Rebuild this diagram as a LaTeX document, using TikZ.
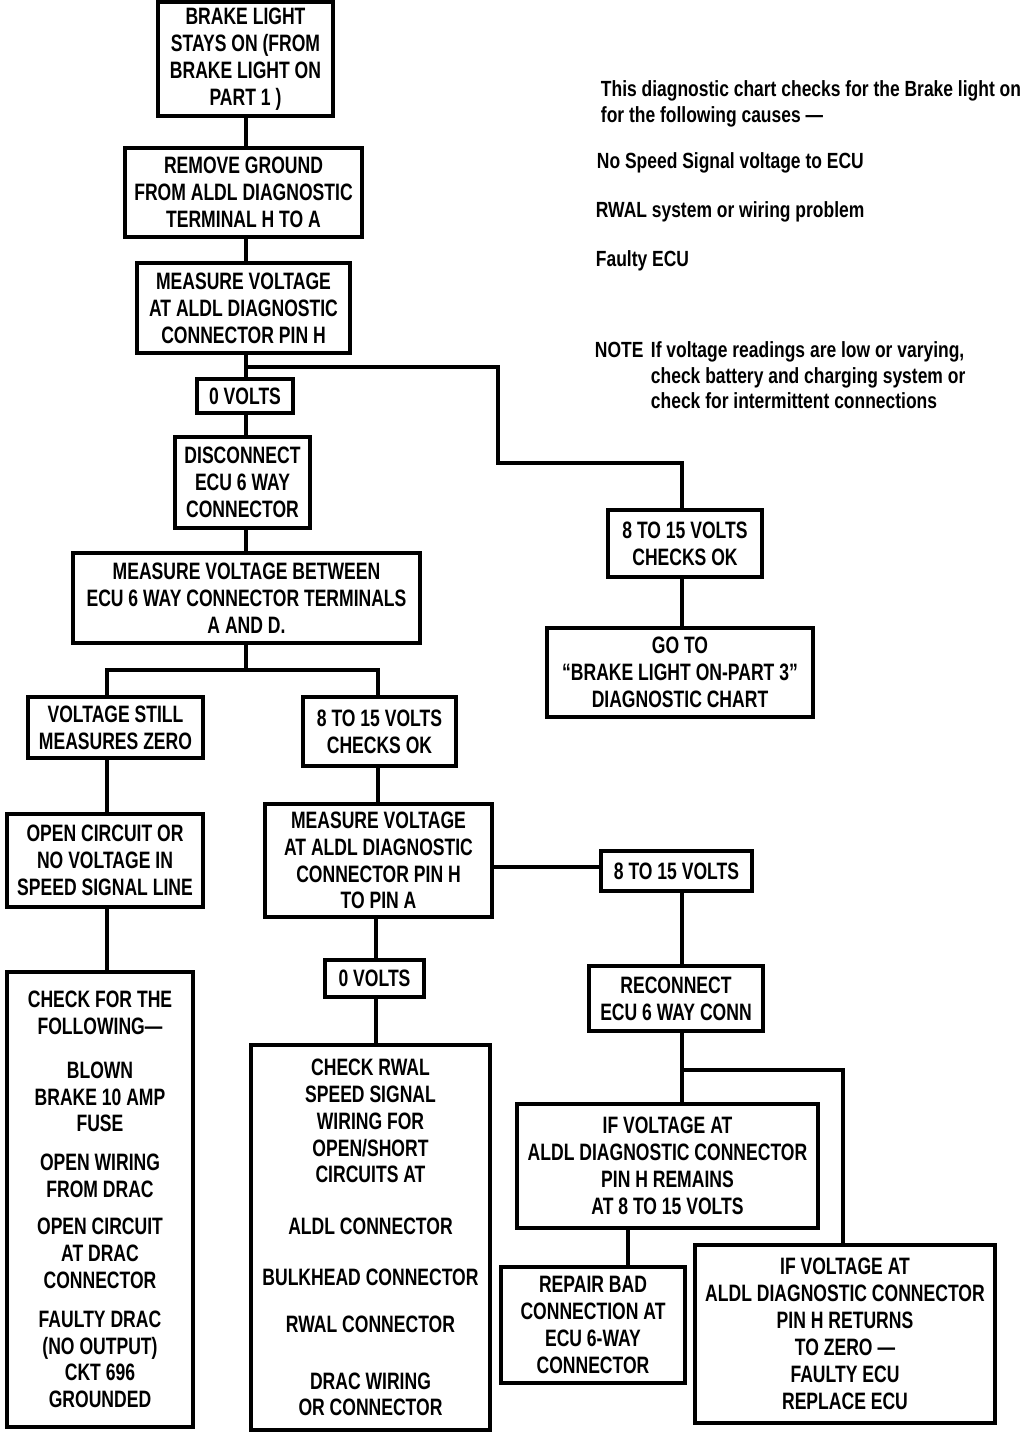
\documentclass[tikz,border=0pt]{standalone}
\usepackage{fontspec}
\newfontfamily\chartfont[FakeStretch=0.74]{Liberation Sans}
\newfontfamily\notefont[FakeStretch=0.795]{Liberation Sans}
\newdimen\px \px=0.02cm
\begin{document}
\begin{tikzpicture}[x=0.02cm,y=-0.02cm,line width=2.2pt,
  chartbox/.style={draw,align=center,inner sep=0pt,font=\chartfont\bfseries\fontsize{13.5}{15.3}\selectfont},
  note/.style={anchor=base west,inner sep=0pt,font=\notefont\bfseries\fontsize{12.5}{14}\selectfont}]
\useasboundingbox (0,0) rectangle (1024,1434);

\node[chartbox,minimum width=175*\px,minimum height=114*\px] (start) at (245.5,59) {BRAKE LIGHT\\STAYS ON (FROM\\BRAKE LIGHT ON\\PART 1 )};
\node[chartbox,minimum width=237*\px,minimum height=89*\px] (ground) at (243.5,192.5) {REMOVE GROUND\\FROM ALDL DIAGNOSTIC\\TERMINAL H TO A};
\node[chartbox,minimum width=213*\px,minimum height=90*\px] (measH) at (243.5,308) {MEASURE VOLTAGE\\AT ALDL DIAGNOSTIC\\CONNECTOR PIN H};
\node[chartbox,minimum width=96*\px,minimum height=34*\px] (zeroA) at (245,396) {0 VOLTS};
\node[chartbox,minimum width=135*\px,minimum height=91*\px] (disc) at (242.5,482.5) {DISCONNECT\\ECU 6 WAY\\CONNECTOR};
\node[chartbox,minimum width=347*\px,minimum height=90*\px] (between) at (246.5,598) {MEASURE VOLTAGE BETWEEN\\ECU 6 WAY CONNECTOR TERMINALS\\A AND D.};
\node[chartbox,minimum width=175*\px,minimum height=61*\px] (still) at (115.5,727.5) {VOLTAGE STILL\\MEASURES ZERO};
\node[chartbox,minimum width=153*\px,minimum height=69*\px] (okL) at (379.5,731.5) {8 TO 15 VOLTS\\CHECKS OK};
\node[chartbox,minimum width=196*\px,minimum height=93*\px] (opencirc) at (105,860.5) {OPEN CIRCUIT OR\\NO VOLTAGE IN\\SPEED SIGNAL LINE};
\node[chartbox,minimum width=227*\px,minimum height=113*\px] (measHA) at (378.5,860.5) {MEASURE VOLTAGE\\AT ALDL DIAGNOSTIC\\CONNECTOR PIN H\\TO PIN A};
\node[chartbox,minimum width=151*\px,minimum height=40*\px] (voltsR) at (676.5,871) {8 TO 15 VOLTS};
\node[chartbox,minimum width=99*\px,minimum height=37*\px] (zeroB) at (374.5,978.5) {0 VOLTS};
\node[chartbox,minimum width=174*\px,minimum height=65*\px] (reconn) at (676,998.5) {RECONNECT\\ECU 6 WAY CONN};
\node[chartbox,minimum width=186*\px,minimum height=455*\px] (checklist) at (100,1199.5) {CHECK FOR THE\\FOLLOWING—\\[9.6pt]BLOWN\\BRAKE 10 AMP\\FUSE\\[6.8pt]OPEN WIRING\\FROM DRAC\\[5.7pt]OPEN CIRCUIT\\AT DRAC\\CONNECTOR\\[6.8pt]FAULTY DRAC\\(NO OUTPUT)\\CKT 696\\GROUNDED};
\node[chartbox,minimum width=239*\px,minimum height=385*\px] (rwal) at (370.5,1237.5) {CHECK RWAL\\SPEED SIGNAL\\WIRING FOR\\OPEN/SHORT\\CIRCUITS AT\\[14.2pt]ALDL CONNECTOR\\[13.6pt]BULKHEAD CONNECTOR\\[11.3pt]RWAL CONNECTOR\\[17pt]DRAC WIRING\\OR CONNECTOR};
\node[chartbox,minimum width=301*\px,minimum height=124*\px] (remains) at (667.5,1166) {IF VOLTAGE AT\\ALDL DIAGNOSTIC CONNECTOR\\PIN H REMAINS\\AT 8 TO 15 VOLTS};
\node[chartbox,minimum width=184*\px,minimum height=116*\px] (repair) at (593,1325) {REPAIR BAD\\CONNECTION AT\\ECU 6-WAY\\CONNECTOR};
\node[chartbox,minimum width=300*\px,minimum height=178*\px] (returns) at (845,1334) {IF VOLTAGE AT\\ALDL DIAGNOSTIC CONNECTOR\\PIN H RETURNS\\TO ZERO —\\FAULTY ECU\\REPLACE ECU};
\node[chartbox,minimum width=154*\px,minimum height=67*\px] (okR) at (685,543.5) {8 TO 15 VOLTS\\CHECKS OK};
\node[chartbox,minimum width=266*\px,minimum height=89*\px] (goto) at (680,672.5) {GO TO\\“BRAKE LIGHT ON-PART 3”\\DIAGNOSTIC CHART};

\node[note] (intro1) at (599,96) {This diagnostic chart checks for the Brake light on};
\node[note] (intro2) at (599,122) {for the following causes —};
\node[note] (cause1) at (595,168) {No Speed Signal voltage to ECU};
\node[note] (cause2) at (594,217) {RWAL system or wiring problem};
\node[note] (cause3) at (594,266) {Faulty ECU};
\node[note] (notehead) at (593,357) {NOTE};
\node[note] (note1) at (649,357) {If voltage readings are low or varying,};
\node[note] (note2) at (649,383) {check battery and charging system or};
\node[note] (note3) at (649,408) {check for intermittent connections};

\coordinate (spine) at (246,0);
\coordinate (lline) at (107,0);
\coordinate (mline) at (378,0);
\coordinate (zline) at (376,0);
\coordinate (rline) at (682,0);
\coordinate (farline) at (843,0);
\coordinate (tap) at (628,0);
\coordinate (hline) at (0,867);
\coordinate (fork1) at (246,367);
\coordinate (bend1) at (498,463);
\coordinate (fork2) at (246,670);
\coordinate (fork3) at (682,1070);

\draw (start.south -| spine) -- (ground.north -| spine);
\draw (ground.south -| spine) -- (measH.north -| spine);
\draw (measH.south -| spine) -- (zeroA.north -| spine);
\draw (zeroA.south -| spine) -- (disc.north -| spine);
\draw (disc.south -| spine) -- (between.north -| spine);
\draw (fork1) -| (bend1) -| (okR.north -| rline);
\draw (okR.south -| rline) -- (goto.north -| rline);
\draw (between.south -| spine) -- (fork2);
\draw (still.north -| lline) |- (fork2) -| (okL.north -| mline);
\draw (still.south -| lline) -- (opencirc.north -| lline);
\draw (opencirc.south -| lline) -- (checklist.north -| lline);
\draw (okL.south -| mline) -- (measHA.north -| mline);
\draw (measHA.east |- hline) -- (voltsR.west |- hline);
\draw (measHA.south -| zline) -- (zeroB.north -| zline);
\draw (zeroB.south -| zline) -- (rwal.north -| zline);
\draw (voltsR.south -| rline) -- (reconn.north -| rline);
\draw (reconn.south -| fork3) -- (remains.north -| fork3);
\draw (fork3) -| (returns.north -| farline);
\draw (remains.south -| tap) -- (repair.north -| tap);
\end{tikzpicture}
\end{document}
